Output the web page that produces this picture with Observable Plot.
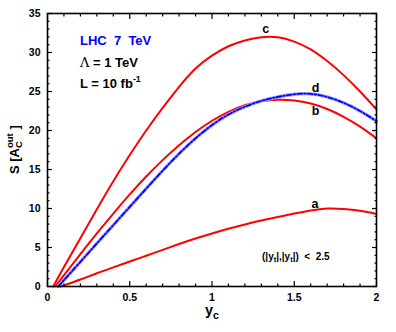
<!DOCTYPE html>
<html>
<head>
<meta charset="utf-8">
<script src="https://cdn.jsdelivr.net/npm/d3@7"></script>
<script src="https://cdn.jsdelivr.net/npm/@observablehq/plot@0.6"></script>
<style>
  body { margin: 0; background: #fff; }
  #chart svg { font-family: "Liberation Sans", Arial, sans-serif; }
</style>
</head>
<body>
<div id="chart"></div>
<script>
// ---- data ----
const ycGrid = [0.1, 0.2, 0.3, 0.4, 0.5, 0.6, 0.7, 0.8, 0.9, 1.0,
                1.1, 1.2, 1.3, 1.4, 1.5, 1.6, 1.7, 1.8, 1.9, 2.0];
const startA = 0.08, startB = 0.047, startC = 0.035, startD = 0.065;
const curveA = [0.15, 0.9, 1.7, 2.45, 3.2, 3.95, 4.7, 5.45, 6.15, 6.8,
                7.4, 7.95, 8.45, 8.9, 9.35, 9.75, 10.0, 9.95, 9.7, 9.3];
const curveB = [1.45, 4.15, 6.8, 9.35, 11.8, 14.1, 16.2, 18.1, 19.8, 21.25,
                22.4, 23.25, 23.75, 23.95, 23.85, 23.45, 22.75, 21.75, 20.5, 19.0];
const curveC = [2.5, 6.2, 9.9, 13.5, 16.85, 20.0, 22.9, 25.6, 27.95, 29.6,
                30.8, 31.55, 31.95, 31.95, 31.4, 30.4, 28.9, 27.1, 25.0, 22.7];
const curveD = [0.82, 3.17, 5.52, 7.87, 10.22, 12.55, 14.85, 17.03, 19.0, 20.7,
                22.05, 23.05, 23.8, 24.3, 24.65, 24.7, 24.3, 23.55, 22.5, 21.2];
const curveLabels = ["a", "b", "c", "d"];
const labelX = [1.626, 1.629, 1.326, 1.629];
const labelY = [10.6, 22.5, 33.0, 25.4];
const xTicks = [0, 0.5, 1, 1.5, 2];
const yTicks = [0, 5, 10, 15, 20, 25, 30, 35];

const rows = (start, vals) => [{x: start, y: 0}, ...ycGrid.map((x, i) => ({x, y: vals[i]}))];
const rowsA = rows(startA, curveA), rowsB = rows(startB, curveB),
      rowsC = rows(startC, curveC), rowsD = rows(startD, curveD);
const labelRows = curveLabels.map((t, i) => ({t, x: labelX[i], y: labelY[i]}));

const xMinor = d3.range(0, 2.0001, 0.1).map(v => +v.toFixed(1)).filter(v => !xTicks.includes(v));
const yMinor = d3.range(0, 35.5, 1).filter(v => !yTicks.includes(v));

const red = "#ff0000";
const crv = "natural";
const blank = () => "";
const plain = d => String(d);

const chart = Plot.plot({
  width: 396, height: 332,
  marginLeft: 47, marginRight: 20, marginTop: 13, marginBottom: 46,
  style: {fontFamily: "Liberation Sans, Arial, sans-serif", fontWeight: "bold", fontSize: "10.5px", background: "#fff", color: "#000"},
  x: {domain: [0, 2], label: null},
  y: {domain: [0, 35], label: null},
  marks: [
    Plot.line(rowsC, {x: "x", y: "y", stroke: red, strokeWidth: 2, curve: crv}),
    Plot.line(rowsB, {x: "x", y: "y", stroke: red, strokeWidth: 2, curve: crv}),
    Plot.line(rowsA, {x: "x", y: "y", stroke: red, strokeWidth: 2, curve: crv}),
    Plot.line(rowsD, {x: "x", y: "y", stroke: "#a3a3ff", strokeWidth: 3.4, curve: crv}),
    Plot.line(rowsD, {x: "x", y: "y", stroke: "#0000ff", strokeWidth: 1.8, strokeDasharray: "5,2,1.5,2", curve: crv}),
    Plot.text(labelRows, {x: "x", y: "y", text: "t", fontSize: 12.5, fontWeight: "bold", fill: "#000"}),
    // bottom / left axes with labels, inward ticks
    Plot.axisX(xTicks, {anchor: "bottom", tickSize: -5, tickPadding: 12, tickFormat: plain, strokeWidth: 1.2, label: null}),
    Plot.axisX(xMinor, {anchor: "bottom", tickSize: -2.5, tickFormat: blank, strokeWidth: 1.2, label: null}),
    Plot.axisY(yTicks, {anchor: "left", tickSize: -5, tickPadding: 12, tickFormat: plain, strokeWidth: 1.2, label: null}),
    Plot.axisY(yMinor, {anchor: "left", tickSize: -2.5, tickFormat: blank, strokeWidth: 1.2, label: null}),
    // mirrored ticks on top / right
    Plot.axisX(xTicks, {anchor: "top", tickSize: -5, tickFormat: blank, strokeWidth: 1.2, label: null}),
    Plot.axisX(xMinor, {anchor: "top", tickSize: -2.5, tickFormat: blank, strokeWidth: 1.2, label: null}),
    Plot.axisY(yTicks, {anchor: "right", tickSize: -5, tickFormat: blank, strokeWidth: 1.2, label: null}),
    Plot.axisY(yMinor, {anchor: "right", tickSize: -2.5, tickFormat: blank, strokeWidth: 1.2, label: null}),
    Plot.frame({stroke: "#000", strokeWidth: 1.6})
  ]
});
document.getElementById("chart").appendChild(chart);

// ---- rich text (sub/superscripts) ----
const svg = d3.select(chart);
function rich(x, y, size, parts, opts = {}) {
  const t = svg.append("text")
    .attr("x", x).attr("y", y)
    .attr("font-size", size)
    .attr("font-weight", "bold")
    .attr("fill", opts.fill || "#000")
    .attr("text-anchor", opts.anchor || "start")
    .style("white-space", "pre");
  if (opts.transform) t.attr("transform", opts.transform);
  let prevShift = 0;
  for (const p of parts) {
    const s = t.append("tspan").text(p.t);
    const shift = p.shift || 0;
    s.attr("dy", shift - prevShift);
    prevShift = shift;
    if (p.size) s.attr("font-size", p.size);
    if (p.family) s.attr("font-family", p.family);
    if (p.weight) s.attr("font-weight", p.weight);
    p.node = s.node();
  }
  return t;
}

rich(80, 45, 13, [{t: "LHC  7  TeV"}], {fill: "#0000ff"});
rich(80, 66.5, 13, [
  {t: "Λ", family: "DejaVu Serif, Liberation Serif, serif", weight: "normal", size: 13},
  {t: " = 1 TeV"}
]);
rich(80, 88, 13, [
  {t: "L = 10 fb"},
  {t: "-1", size: 9, shift: -6},
  {t: "", shift: 0}
]);
rich(262, 259.5, 10, [
  {t: "(|y"}, {t: "t", size: 7.5, shift: 2.5}, {t: "|,|y", shift: 0},
  {t: "t", size: 7.5, shift: 2.5}, {t: "|)  <  2.5", shift: 0}
]);
// x axis label
rich(205, 315, 14.5, [{t: "y"}, {t: "c", size: 10.5, shift: 3.5}, {t: "", shift: 0}]);
// y axis label (rotated)
const ylab = [
  {t: "S [A"},
  {t: "C", size: 9.5, shift: 3},
];
const yl = rich(0, 0, 13, ylab, {anchor: "start", transform: "translate(19,174) rotate(-90)"});
const cw = ylab[1].node.getComputedTextLength();
yl.append("tspan").text("out").attr("font-size", 9.5).attr("dx", -cw).attr("dy", -9.5);
yl.append("tspan").text(" ]").attr("dy", 6.5);
</script>
</body>
</html>
